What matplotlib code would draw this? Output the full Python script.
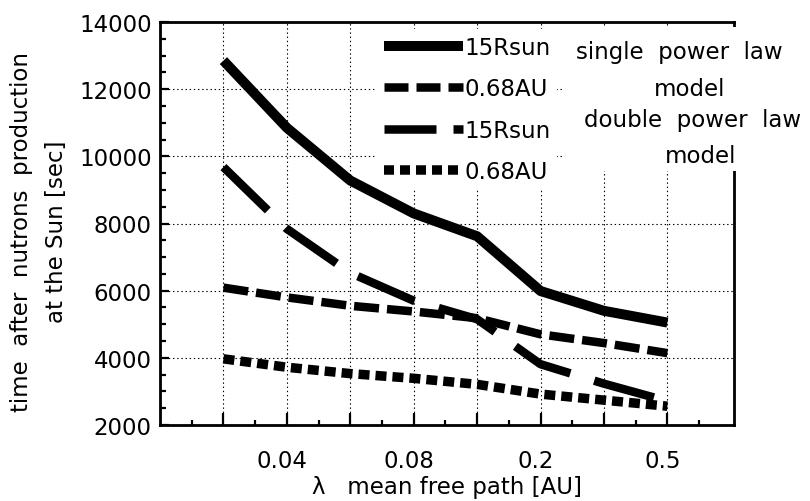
import numpy as np
import matplotlib
matplotlib.use("Agg")
import matplotlib.pyplot as plt
import matplotlib.transforms as mtransforms
from matplotlib.lines import Line2D
from matplotlib.patches import Rectangle
from matplotlib.ticker import MultipleLocator, FixedLocator, FixedFormatter

plt.rcParams['font.family'] = ['DejaVu Sans']
plt.rcParams['lines.scale_dashes'] = False

# ---- data ----
lambda_values = ['0.02', '0.04', '0.06', '0.08', '0.1', '0.2', '0.3', '0.5']
shown_labels = ['', '0.04', '', '0.08', '', '0.2', '', '0.5']
single_15rsun = [12850, 10850, 9280, 8300, 7620, 5990, 5400, 5050]
single_068au = [6090, 5800, 5550, 5380, 5180, 4700, 4440, 4140]
double_15rsun = [9680, 7840, 6530, 5700, 5150, 3810, 3230, 2710]
double_068au = [3970, 3720, 3530, 3390, 3210, 2920, 2740, 2560]
legend_labels = ['15Rsun', '0.68AU', '15Rsun', '0.68AU']

PX = 72 / 100.0  # points per pixel

FS = 16.5
fig = plt.figure(figsize=(8.1, 5.02), dpi=100)
ax = fig.add_axes([160 / 810, 1 - 426 / 502, (734 - 160) / 810, (426 - 23) / 502])

x = np.arange(1, len(lambda_values) + 1)

sty_solid = dict(color='black', lw=10 * PX, solid_capstyle='butt', solid_joinstyle='miter')
sty_dash = dict(color='black', lw=8.5 * PX, linestyle=(0, (25 * PX, 8 * PX)), dash_capstyle='butt')
sty_ldash = dict(color='black', lw=8.5 * PX, linestyle=(0, (62 * PX, 25 * PX)), dash_capstyle='butt')
sty_dot = dict(color='black', lw=9.5 * PX, linestyle=(0, (11 * PX, 6 * PX)), dash_capstyle='butt')

ax.plot(x, single_15rsun, **sty_solid, zorder=6)
ax.plot(x, single_068au, **sty_dash, zorder=6)
ax.plot(x, double_15rsun, **sty_ldash, zorder=6)
ax.plot(x, double_068au, **sty_dot, zorder=6)

ax.set_xlim(0, 9.05)
ax.set_ylim(2000, 14000)

ax.xaxis.set_major_locator(FixedLocator(x))
ax.xaxis.set_major_formatter(FixedFormatter(shown_labels))
ax.xaxis.set_minor_locator(FixedLocator(np.arange(0.5, 9, 1.0)))
ax.yaxis.set_major_locator(MultipleLocator(2000))
ax.yaxis.set_minor_locator(MultipleLocator(500))

ax.tick_params(axis='x', which='major', direction='in', length=12 * PX, width=2.2 * PX,
               pad=17, labelsize=FS)
ax.tick_params(axis='x', which='minor', direction='in', length=5 * PX, width=2.2 * PX)
ax.tick_params(axis='y', which='major', direction='in', length=9 * PX, width=2.2 * PX,
               pad=6, labelsize=FS)
ax.tick_params(axis='y', which='minor', direction='in', length=6 * PX, width=2.2 * PX)

# x tick labels sit slightly left of their ticks in the original
shift = mtransforms.ScaledTranslation(-5 / 100.0, 0, fig.dpi_scale_trans)
for lbl in ax.get_xticklabels():
    lbl.set_transform(lbl.get_transform() + shift)

for s in ax.spines.values():
    s.set_linewidth(2.8 * PX)

ax.grid(True, which='major', color='black', linestyle=(0, (1, 2)), linewidth=0.8)
ax.set_axisbelow(True)

# legend (proxy handles reproducing the legend samples)
handles = [
    Line2D([], [], **sty_solid),
    Line2D([], [], color='black', lw=8.5 * PX, linestyle=(0, (24 * PX, 8 * PX)), dash_capstyle='butt'),
    Line2D([], [], color='black', lw=8.5 * PX, linestyle=(0, (52 * PX, 17 * PX, 12 * PX, 17 * PX)),
           dash_capstyle='butt'),
    Line2D([], [], color='black', lw=9.5 * PX, linestyle=(0, (10 * PX, 6 * PX)), dash_capstyle='butt'),
]
leg = ax.legend(handles, legend_labels, loc='upper left',
                bbox_to_anchor=(377 / 810, 1 - 30 / 502), bbox_transform=fig.transFigure,
                fontsize=FS, handlelength=3.45, handletextpad=0.05, labelspacing=0.8,
                borderpad=0.3, borderaxespad=0, frameon=True, fancybox=False)
leg.get_frame().set_facecolor('white')
leg.get_frame().set_edgecolor('none')
leg.get_frame().set_alpha(1)
leg.set_zorder(5)

# white block behind the model annotations (hides right spine and grid there)
fig.add_artist(Rectangle((562 / 810, 1 - 172 / 502), 248 / 810, (172 - 28) / 502,
                         transform=fig.transFigure, facecolor='white', edgecolor='none', zorder=1))

fig.text(679 / 810, 1 - 52 / 502, 'single  power  law', ha='center', va='center', fontsize=FS, zorder=3)
fig.text(690 / 810, 1 - 90 / 502, 'model', ha='center', va='center', fontsize=FS, zorder=3)
fig.text(693 / 810, 1 - 121 / 502, 'double  power  law', ha='center', va='center', fontsize=FS, zorder=3)
fig.text(701 / 810, 1 - 157 / 502, 'model', ha='center', va='center', fontsize=FS, zorder=3)

fig.text(39 / 810, 1 - 232 / 502, 'time  after  nutrons  production\nat the Sun [sec]',
         rotation=90, ha='center', va='center', multialignment='center', fontsize=FS,
         linespacing=1.65)
fig.text(447 / 810, 1 - 488 / 502, 'λ   mean free path [AU]', ha='center', va='center', fontsize=FS)

fig.savefig('out.png', dpi=100)
